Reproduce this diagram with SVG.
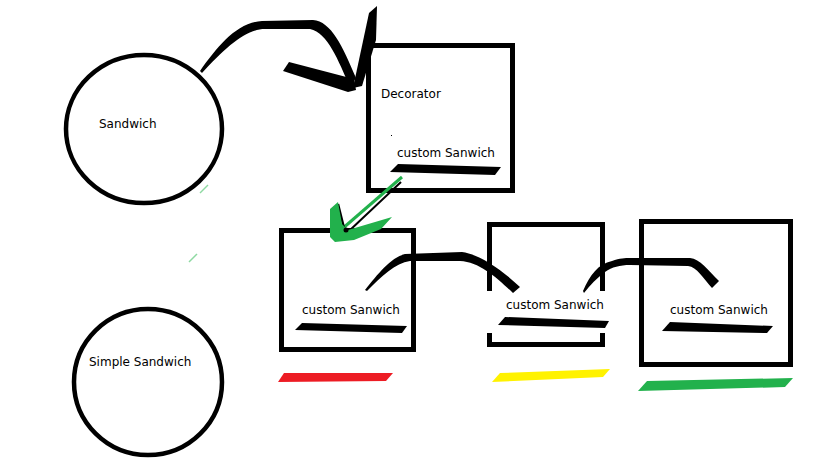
<svg xmlns="http://www.w3.org/2000/svg" width="819" height="460" viewBox="0 0 819 460">
<style>
.node{fill:none;stroke:#000;stroke-width:5}
.circ{fill:none;stroke:#000;stroke-width:4.5}
.lbl{font-family:"DejaVu Sans",sans-serif;font-size:12px;fill:#000}
.ink{fill:#000}
.dash{stroke:#8ed9a2;stroke-width:1.5;fill:none}
</style>
<rect width="819" height="460" fill="#fff"/>
<g id="sandwich">
<ellipse class="circ" cx="144" cy="129" rx="78" ry="74"/>
<text class="lbl" x="99" y="128">Sandwich</text>
</g>
<g id="simple-sandwich">
<ellipse class="circ" cx="148" cy="382" rx="74" ry="73"/>
<text class="lbl" x="89" y="365.5">Simple Sandwich</text>
</g>
<g id="decorator">
<rect class="node" x="368.5" y="45.5" width="144" height="145"/>
<text class="lbl" x="381" y="98">Decorator</text>
<rect x="391" y="135" width="1" height="1" fill="#000"/>
<text class="lbl" x="397" y="156.5">custom Sanwich</text>
<polygon class="ink" points="390,172 398,164 501,167 495,175"/>
</g>
<g id="custom1">
<rect class="node" x="281.5" y="230.5" width="132" height="119"/>
<text class="lbl" x="302" y="314">custom Sanwich</text>
<polygon class="ink" points="295,330 302,323 407,326 402,333"/>
<polygon fill="#ed1c24" points="278,382 284,373 393,373 386,381"/>
</g>
<g id="custom2">
<rect class="node" x="489.5" y="224.5" width="113" height="120"/>
<rect x="484" y="291" width="124" height="42" fill="#fff"/>
<text class="lbl" x="506" y="309">custom Sanwich</text>
<polygon class="ink" points="498,325 505,317 609,321 605,328"/>
<polygon fill="#fff200" points="492,382 500,373 610,369 603,377"/>
</g>
<g id="custom3">
<rect class="node" x="641.5" y="221.5" width="149" height="143"/>
<text class="lbl" x="670" y="314">custom Sanwich</text>
<polygon class="ink" points="662,331 670,322 773,326 767,333"/>
<polygon fill="#22b14c" points="638,391 647,381 793,378 785,387"/>
</g>
<g id="connectors">
<path class="ink" d="M200,71 C218,46 236,23 262,21 L313,20 C331,21 343,47 356,78 L350,87 C338,60 328,33 310,29 L265,29 C246,29 226,47 202,73 Z"/>
<polygon class="ink" points="289,62 354,79 356,90 348,92 283,71"/>
<polygon class="ink" points="353,88 369,13 377,6 376,40 362,86"/>
<line x1="401" y1="182" x2="349" y2="231" stroke="#000" stroke-width="2"/>
<line x1="402" y1="177" x2="342" y2="229" stroke="#22b14c" stroke-width="3"/>
<line x1="338" y1="204" x2="344" y2="228" stroke="#000" stroke-width="2.5"/>
<polygon fill="#22b14c" points="330,209 338,202 342,224 348,230 392,217 381,229 354,240 335,242 330,237"/>
<circle cx="346" cy="230" r="2.5" fill="#000"/>
<path class="ink" d="M365,290 C378,274 390,258 405,254 L462,252 C478,254 500,268 520,287 L513,293 C497,278 480,262 460,261 L410,261 C395,263 382,276 367,291 Z"/>
<path class="ink" d="M583,291 C590,275 598,264 612,261 C620,258 625,258 630,258 L690,258 C700,259 708,270 719,281 L712,288 C703,278 697,267 688,266 L630,265 C620,265 612,267 605,272 C597,278 590,285 584,293 Z"/>
<line class="dash" x1="200" y1="193" x2="208" y2="185"/>
<line class="dash" x1="189" y1="262" x2="197" y2="254"/>
</g>
</svg>
